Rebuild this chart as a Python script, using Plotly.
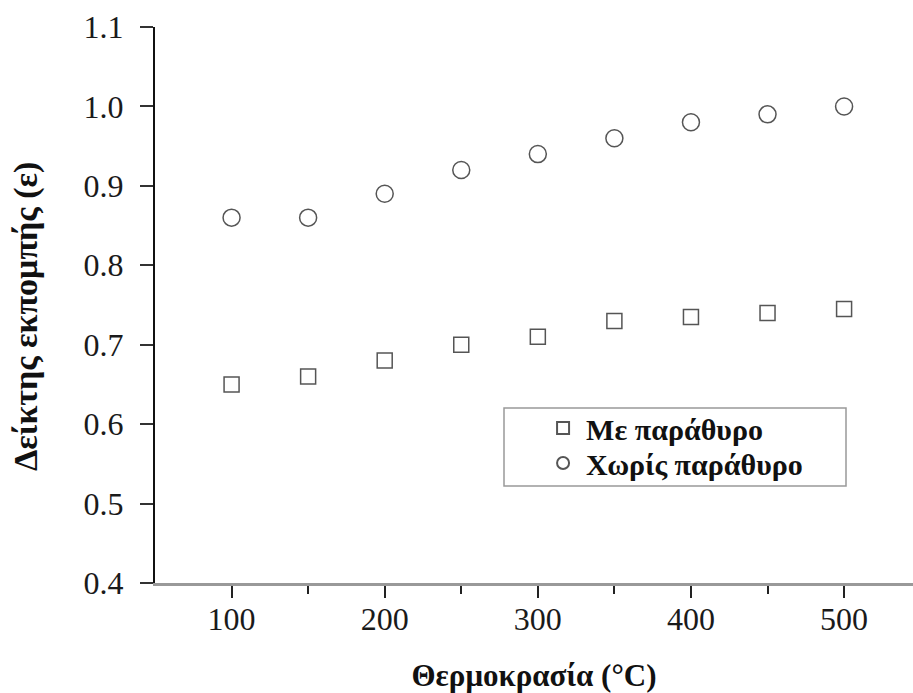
import plotly.graph_objects as go

temps = [100, 150, 200, 250, 300, 350, 400, 450, 500]
with_window = [0.65, 0.66, 0.68, 0.70, 0.71, 0.73, 0.735, 0.74, 0.745]
without_window = [0.86, 0.86, 0.89, 0.92, 0.94, 0.96, 0.98, 0.99, 1.00]
name_with = "Με παράθυρο"
name_without = "Χωρίς παράθυρο"
x_title = "Θερμοκρασία (°C)"
y_title = "Δείκτης εκπομπής (ε)"

serif = "Liberation Serif, Times New Roman, serif"

fig = go.Figure()
fig.add_trace(go.Scatter(
    x=temps, y=with_window, mode="markers", name=name_with, legend="legend",
    marker=dict(symbol="square", size=15, color="white",
                line=dict(color="#555", width=1.5)),
))
fig.add_trace(go.Scatter(
    x=temps, y=without_window, mode="markers", name=name_without, legend="legend2",
    marker=dict(symbol="circle", size=17, color="white",
                line=dict(color="#555", width=1.5)),
))

leg_font = dict(family=serif, size=30, color="#111", weight="bold")
leg_common = dict(xanchor="left", yanchor="middle", bgcolor="rgba(0,0,0,0)",
                  borderwidth=0, font=leg_font, itemsizing="constant", itemwidth=36)

fig.update_layout(
    width=913, height=693,
    margin=dict(l=155, r=0, t=27, b=110),
    plot_bgcolor="white", paper_bgcolor="white",
    font=dict(family=serif, color="#1a1a1a"),
    showlegend=True,
    legend=dict(x=0.508, y=(583 - 428) / 556, **leg_common),
    legend2=dict(x=0.508, y=(583 - 463) / 556, **leg_common),
    shapes=[dict(type="rect", xref="paper", yref="paper",
                 x0=(504 - 155) / 758, x1=(846 - 155) / 758,
                 y0=(583 - 486) / 556, y1=(583 - 408) / 556,
                 line=dict(color="#999", width=1.5), fillcolor="rgba(0,0,0,0)",
                 layer="below")],
    annotations=[dict(text=y_title, xref="paper", yref="paper",
                      x=(26 - 155) / 758, y=(583 - 317) / 556,
                      xanchor="center", yanchor="middle", textangle=-90,
                      showarrow=False,
                      font=dict(family=serif, size=34, color="#111", weight="bold"))],
)

fig.update_xaxes(
    range=[50, 545], tickvals=[100, 200, 300, 400, 500],
    ticks="outside", ticklen=12, tickwidth=2, tickcolor="#222",
    showline=True, linecolor="#999", linewidth=3,
    showgrid=False, zeroline=False,
    tickfont=dict(family=serif, size=32, color="#1a1a1a"),
    ticklabelstandoff=-6,
    minor=dict(tickvals=[150, 250, 350, 450], ticks="outside", ticklen=8,
               tickwidth=2, tickcolor="#222", showgrid=False),
    title=dict(text=x_title, standoff=31,
               font=dict(family=serif, size=31, color="#111", weight="bold")),
)
fig.update_yaxes(
    range=[0.4, 1.1], dtick=0.1, tick0=0.4, tickformat=".1f",
    ticks="outside", ticklen=13, tickwidth=2, tickcolor="#333",
    showline=True, linecolor="#111", linewidth=2,
    showgrid=False, zeroline=False,
    tickfont=dict(family=serif, size=32, color="#1a1a1a"),
    ticklabelstandoff=10,
)

fig.write_html("out.html")
